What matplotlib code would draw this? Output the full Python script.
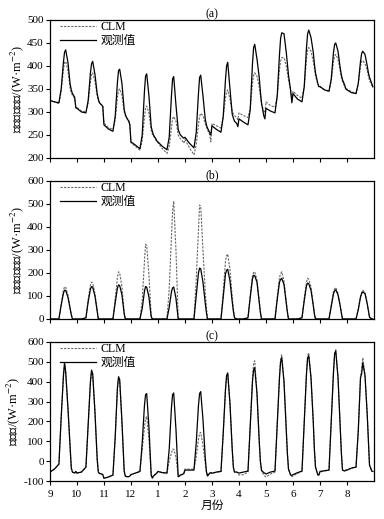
"""
CLM vs observed surface radiation, monthly mean diurnal cycles
"""

import numpy as np
import matplotlib.pyplot as plt

plt.rcParams['font.family'] = ['Liberation Serif', 'Noto Sans CJK SC']
plt.rcParams['mathtext.fontset'] = 'stix'
plt.rcParams['axes.unicode_minus'] = False

month_labels = ["9", "10", "11", "12", "1", "2", "3", "4", "5", "6", "7", "8"]
hours = [0, 4, 8, 10, 12, 13, 14, 16, 18, 19, 20, 22, 23]

# (a) surface upward longwave, W m-2, one row per month
lw_obs = [
    [325, 322, 320, 350, 408, 430, 435, 408, 360, 348, 340, 332, 310],
    [308, 300, 298, 325, 385, 405, 410, 382, 340, 328, 320, 315, 312],
    [272, 263, 258, 290, 365, 390, 393, 362, 305, 295, 288, 280, 272],
    [235, 228, 220, 250, 345, 378, 383, 335, 268, 258, 250, 242, 237],
    [235, 225, 218, 245, 335, 372, 377, 315, 262, 255, 250, 245, 243],
    [245, 232, 222, 255, 340, 375, 380, 335, 285, 272, 265, 255, 250],
    [270, 262, 256, 290, 370, 400, 408, 350, 295, 287, 280, 275, 268],
    [285, 278, 272, 305, 405, 440, 447, 415, 375, 345, 320, 292, 285],
    [308, 302, 298, 335, 425, 460, 472, 470, 430, 405, 380, 345, 320],
    [340, 328, 322, 355, 440, 470, 478, 462, 430, 405, 385, 362, 355],
    [355, 348, 345, 372, 430, 447, 450, 432, 395, 380, 370, 358, 350],
    [348, 342, 340, 362, 410, 427, 432, 425, 400, 385, 375, 362, 355],
]
lw_clm = [
    [325, 322, 318, 345, 392, 407, 410, 390, 350, 342, 336, 330, 308],
    [310, 302, 300, 320, 365, 382, 385, 367, 335, 325, 320, 315, 312],
    [276, 266, 262, 283, 332, 347, 350, 337, 300, 292, 288, 282, 275],
    [233, 225, 217, 238, 288, 308, 313, 297, 260, 252, 248, 240, 235],
    [233, 220, 210, 225, 265, 285, 290, 280, 250, 245, 242, 236, 232],
    [240, 222, 207, 228, 272, 290, 297, 292, 275, 268, 262, 250, 235],
    [275, 270, 265, 288, 330, 344, 348, 328, 302, 296, 292, 288, 283],
    [298, 292, 288, 308, 362, 380, 385, 378, 355, 335, 318, 302, 298],
    [322, 314, 310, 333, 392, 410, 418, 418, 400, 385, 370, 345, 325],
    [345, 336, 330, 355, 415, 434, 440, 432, 410, 395, 378, 362, 355],
    [355, 348, 345, 367, 410, 422, 425, 415, 388, 375, 366, 355, 348],
    [350, 344, 340, 360, 400, 410, 412, 405, 390, 378, 368, 358, 352],
]

# (b) surface reflected shortwave
sw_obs = [
    [0, 0, 0, 60, 112, 125, 124, 95, 45, 18, 0, 0, 0],
    [0, 0, 5, 75, 130, 141, 138, 100, 35, 0, 0, 0, 0],
    [0, 0, 0, 70, 135, 148, 145, 105, 22, 0, 0, 0, 0],
    [0, 0, 0, 45, 120, 141, 138, 95, 10, 0, 0, 0, 0],
    [0, 0, 0, 50, 118, 135, 139, 90, 0, 0, 0, 0, 0],
    [0, 0, 0, 100, 200, 221, 218, 160, 70, 30, 0, 0, 0],
    [0, 0, 0, 95, 195, 212, 216, 165, 75, 35, 5, 0, 0],
    [0, 0, 5, 95, 175, 190, 188, 160, 75, 30, 0, 0, 0],
    [0, 0, 0, 85, 160, 172, 177, 150, 70, 30, 0, 0, 0],
    [0, 0, 5, 80, 145, 156, 153, 125, 60, 22, 0, 0, 0],
    [0, 0, 0, 55, 110, 122, 127, 105, 55, 25, 0, 0, 0],
    [0, 0, 0, 40, 95, 110, 118, 110, 65, 35, 8, 0, 0],
]
sw_clm = [
    [0, 0, 0, 65, 125, 140, 138, 105, 50, 20, 0, 0, 0],
    [0, 0, 5, 85, 148, 160, 156, 112, 40, 0, 0, 0, 0],
    [0, 0, 0, 90, 180, 205, 200, 140, 28, 0, 0, 0, 0],
    [0, 0, 0, 80, 250, 325, 320, 190, 15, 0, 0, 0, 0],
    [0, 0, 0, 130, 350, 470, 512, 300, 0, 0, 0, 0, 0],
    [0, 0, 0, 170, 380, 495, 490, 300, 120, 55, 0, 0, 0],
    [0, 0, 0, 120, 250, 275, 282, 215, 95, 45, 8, 0, 0],
    [0, 0, 5, 100, 188, 203, 205, 170, 80, 32, 0, 0, 0],
    [0, 0, 0, 95, 180, 197, 205, 165, 78, 33, 0, 0, 0],
    [0, 0, 5, 90, 162, 177, 172, 140, 65, 25, 0, 0, 0],
    [0, 0, 0, 60, 120, 132, 137, 112, 58, 27, 0, 0, 0],
    [0, 0, 0, 42, 100, 116, 125, 115, 68, 37, 8, 0, 0],
]

# (c) net radiation
rn_obs = [
    [-55, -40, -15, 220, 430, 495, 450, 270, 60, -35, -55, -60, -52],
    [-60, -55, -30, 180, 400, 458, 440, 250, 10, -55, -62, -65, -68],
    [-86, -80, -70, 120, 370, 425, 410, 200, -50, -75, -78, -78, -75],
    [-68, -60, -52, 90, 280, 335, 340, 170, -70, -85, -75, -65, -60],
    [-52, -58, -60, 60, 270, 335, 343, 160, -78, -75, -70, -66, -62],
    [-45, -45, -45, 90, 280, 340, 350, 210, 20, -50, -75, -60, -58],
    [-61, -55, -52, 140, 360, 430, 444, 290, 60, -30, -55, -55, -58],
    [-60, -55, -50, 170, 400, 460, 470, 340, 100, 0, -45, -58, -60],
    [-65, -55, -50, 180, 420, 500, 520, 400, 160, 40, -40, -70, -72],
    [-68, -58, -50, 200, 440, 520, 530, 420, 200, 60, -30, -68, -70],
    [-52, -48, -45, 200, 450, 540, 555, 420, 170, 40, -45, -50, -45],
    [-45, -35, -30, 150, 420, 440, 495, 430, 230, 100, -20, -50, -52],
]
rn_clm = [
    [-55, -40, -15, 215, 425, 490, 445, 265, 55, -35, -55, -60, -52],
    [-60, -55, -30, 178, 395, 455, 438, 248, 10, -55, -62, -65, -68],
    [-86, -80, -70, 118, 365, 420, 405, 195, -50, -75, -78, -78, -75],
    [-68, -60, -52, 60, 170, 215, 225, 110, -70, -85, -75, -65, -60],
    [-52, -58, -60, 0, 40, 60, 60, 20, -78, -75, -70, -66, -62],
    [-40, -40, -40, 20, 110, 140, 145, 80, -10, -50, -75, -60, -58],
    [-61, -55, -52, 140, 358, 428, 440, 288, 58, -30, -55, -55, -58],
    [-70, -68, -55, 185, 420, 490, 505, 345, 100, 0, -50, -70, -75],
    [-80, -65, -55, 185, 430, 515, 535, 405, 160, 40, -40, -75, -78],
    [-75, -62, -52, 205, 445, 530, 545, 425, 200, 60, -30, -70, -72],
    [-55, -50, -45, 200, 450, 540, 560, 425, 170, 40, -45, -50, -45],
    [-45, -35, -30, 155, 425, 460, 520, 435, 235, 100, -20, -50, -52],
]

# month index + fraction of day
x = np.concatenate([k + np.array(hours) / 24.0 for k in range(12)])

panels = [
    ("(a)", lw_obs, lw_clm, "地面长波辐射/(W·m$^{-2}$)", (200, 500), range(200, 501, 50)),
    ("(b)", sw_obs, sw_clm, "地面反射辐射/(W·m$^{-2}$)", (0, 600), range(0, 601, 100)),
    ("(c)", rn_obs, rn_clm, "净辐射/(W·m$^{-2}$)", (-100, 600), range(-100, 601, 100)),
]
boxes = [
    [0.130, 0.6956, 0.844, 0.266],
    [0.130, 0.3854, 0.844, 0.266],
    [0.130, 0.0732, 0.844, 0.268],
]

fig = plt.figure(figsize=(3.84, 5.19), dpi=100)

for i, (tag, obs, clm, ylab, ylim, yt) in enumerate(panels):
    ax = fig.add_axes(boxes[i])
    ax.plot(x, np.concatenate(clm), linestyle=(0, (2, 1.2)), color="#666666",
            linewidth=0.8, label="CLM")
    ax.plot(x, np.concatenate(obs), linestyle="-", color="black",
            linewidth=0.9, label="观测值")
    ax.set_xlim(0, 12)
    ax.set_ylim(*ylim)
    ax.set_yticks(list(yt))
    ax.set_xticks(range(12))
    if i == 2:
        ax.set_xticklabels(month_labels)
        ax.set_xlabel("月份", fontsize=8.5, labelpad=1)
    else:
        ax.set_xticklabels([])
    ax.tick_params(direction="out", length=3, width=0.8, labelsize=8, pad=1.5)
    ax.tick_params(axis="x", pad=3.5)
    ax.set_ylabel(ylab, fontsize=9, labelpad=1)
    ax.set_title(tag, fontsize=8.5, pad=1.5)
    for s in ax.spines.values():
        s.set_linewidth(0.9)
    ax.legend(loc="upper left", bbox_to_anchor=(0.025, 1.01), frameon=False,
              fontsize=8.5, handlelength=3.0, handletextpad=0.4,
              labelspacing=0.2, borderaxespad=0.05, borderpad=0.15)

fig.savefig("out.png", dpi=100)
